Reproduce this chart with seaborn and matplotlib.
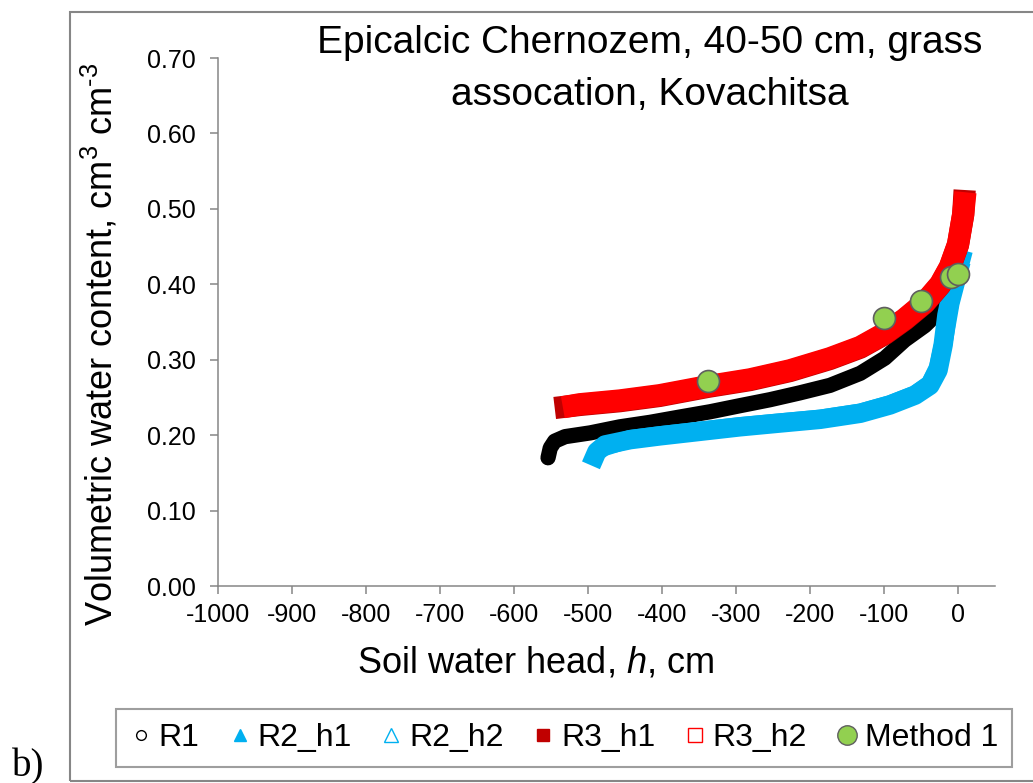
import numpy as np
import matplotlib
matplotlib.use('Agg')
import matplotlib.pyplot as plt
from matplotlib.lines import Line2D
from matplotlib.patches import Rectangle
from matplotlib.ticker import FormatStrFormatter
import seaborn as sns

# values: soil water head h (cm), water content (cm3 cm-3)
r1_h = [-554, -551, -545, -531, -497, -457, -416, -376, -335, -295, -254, -214, -173, -132, -99, -72, -45, -27, -16, -11]
r1_theta = [0.170, 0.183, 0.192, 0.198, 0.203, 0.211, 0.217, 0.224, 0.231, 0.239, 0.247, 0.256, 0.266, 0.282, 0.302, 0.326, 0.345, 0.362, 0.382, 0.399]

r2_h1_h = [-496, -488, -477, -443, -403, -349, -295, -241, -186, -132, -92, -58, -38, -27, -20, -15, -8, 0, 7]
r2_h1_theta = [0.160, 0.178, 0.187, 0.194, 0.199, 0.205, 0.211, 0.216, 0.221, 0.229, 0.240, 0.253, 0.266, 0.286, 0.320, 0.359, 0.392, 0.419, 0.445]
r2_h2_h = [-485, -443, -403, -349, -295, -241, -186, -132, -92, -58, -38, -27, -18, -10, -2, 5]
r2_h2_theta = [0.182, 0.195, 0.200, 0.206, 0.212, 0.217, 0.222, 0.230, 0.241, 0.254, 0.268, 0.290, 0.330, 0.375, 0.405, 0.430]

r3_h1_h = [-545, -511, -457, -403, -338, -281, -227, -173, -132, -99, -72, -45, -24, -11, 0, 7, 9]
r3_h1_theta = [0.236, 0.240, 0.245, 0.252, 0.264, 0.273, 0.285, 0.301, 0.316, 0.334, 0.353, 0.375, 0.399, 0.422, 0.452, 0.492, 0.525]
r3_h2_h = [-534, -511, -457, -403, -338, -281, -227, -173, -132, -99, -72, -45, -24, -11, 0, 7, 10]
r3_h2_theta = [0.237, 0.241, 0.246, 0.253, 0.265, 0.274, 0.286, 0.302, 0.317, 0.335, 0.354, 0.376, 0.400, 0.423, 0.453, 0.493, 0.522]

m1_h = [-338, -100, -50, -10, 0]
m1_theta = [0.272, 0.355, 0.378, 0.410, 0.413]

labels = ['R1', 'R2_h1', 'R2_h2', 'R3_h1', 'R3_h2', 'Method 1']

sns.set_theme(style='white')
plt.rcParams['font.family'] = ['Liberation Sans', 'DejaVu Sans']
plt.rcParams['mathtext.fontset'] = 'custom'
plt.rcParams['mathtext.rm'] = 'Liberation Sans'
plt.rcParams['mathtext.it'] = 'Liberation Sans:italic'
plt.rcParams['axes.unicode_minus'] = False
plt.rcParams['text.color'] = 'black'
plt.rcParams['axes.labelcolor'] = 'black'

grey = '#868686'
blue = '#00B0F0'
green = '#92D050'

fig = plt.figure(figsize=(10.33, 7.83), dpi=100)
ax = fig.add_axes([218 / 1033, 1 - 586 / 783, 777 / 1033, 528 / 783])

sns.lineplot(x=r1_h, y=r1_theta, sort=False, color='black', linewidth=11,
             solid_capstyle='round', ax=ax)
sns.lineplot(x=r2_h1_h, y=r2_h1_theta, sort=False, color=blue, linewidth=14,
             solid_capstyle='butt', ax=ax)
sns.lineplot(x=r2_h2_h, y=r2_h2_theta, sort=False, color=blue, linewidth=13,
             solid_capstyle='butt', ax=ax)
sns.lineplot(x=r3_h1_h, y=r3_h1_theta, sort=False, color='#C00000', linewidth=16,
             solid_capstyle='butt', ax=ax)
sns.lineplot(x=r3_h2_h, y=r3_h2_theta, sort=False, color='#FF0000', linewidth=16,
             solid_capstyle='butt', ax=ax)
sns.scatterplot(x=m1_h, y=m1_theta, s=250, color=green, edgecolor='#5f5f5f',
                linewidth=1.2, zorder=5, ax=ax)

ax.set_xlim(-1000, 50)
ax.set_ylim(0, 0.70)
ax.set_xticks(np.arange(-1000, 1, 100))
ax.set_yticks(np.arange(0, 0.71, 0.1))
ax.yaxis.set_major_formatter(FormatStrFormatter('%.2f'))
ax.tick_params(axis='both', direction='out', length=6, width=1.1, color=grey,
               labelcolor='black', labelsize=18, left=True, bottom=True)
ax.tick_params(axis='y', pad=10)
ax.tick_params(axis='x', pad=6)
for side in ['top', 'right']:
    ax.spines[side].set_visible(False)
for side in ['left', 'bottom']:
    ax.spines[side].set_color(grey)
    ax.spines[side].set_linewidth(1.1)

ax.set_xlabel('Soil water head, $h$, cm', fontsize=26)
ax.xaxis.set_label_coords(0.409, -0.112)
ax.set_ylabel('Volumetric water content, cm$^3$ cm$^{\\text{-3}}$', fontsize=26)
ax.yaxis.set_label_coords(-0.126, 0.458)

fig.text(650 / 1033, 1 - 53 / 783, 'Epicalcic Chernozem, 40-50 cm, grass',
         ha='center', va='baseline', fontsize=28)
fig.text(650 / 1033, 1 - 105 / 783, 'assocation, Kovachitsa',
         ha='center', va='baseline', fontsize=28)

handles = [
    Line2D([], [], ls='none', marker='o', mfc='white', mec='black', ms=7, mew=1),
    Line2D([], [], ls='none', marker='^', mfc=blue, mec=blue, ms=8),
    Line2D([], [], ls='none', marker='^', mfc='white', mec=blue, ms=10, mew=1),
    Line2D([], [], ls='none', marker='s', mfc='#C00000', mec='#C00000', ms=8),
    Line2D([], [], ls='none', marker='s', mfc='white', mec='#FF0000', ms=10, mew=1),
    Line2D([], [], ls='none', marker='o', mfc=green, mec='#5f5f5f', ms=14, mew=1),
]
leg = fig.legend(handles, labels, loc='center', bbox_to_anchor=(564 / 1033, 1 - 738 / 783),
                 ncol=6, fontsize=23, frameon=True, fancybox=False, edgecolor=grey,
                 handlelength=0.7, handletextpad=0.2, columnspacing=0.9, borderpad=0.45)
leg.get_frame().set_linewidth(1.5)

# outer frame of the panel
fig.patches.append(Rectangle((70 / 1033, 2 / 783), 1.0, 769 / 783, transform=fig.transFigure,
                             fill=False, edgecolor=grey, linewidth=1.5))
fig.text(12 / 1033, 1 - 776 / 783, 'b)', family='Liberation Serif', fontsize=28, va='baseline')

fig.savefig('out.png', dpi=100)
